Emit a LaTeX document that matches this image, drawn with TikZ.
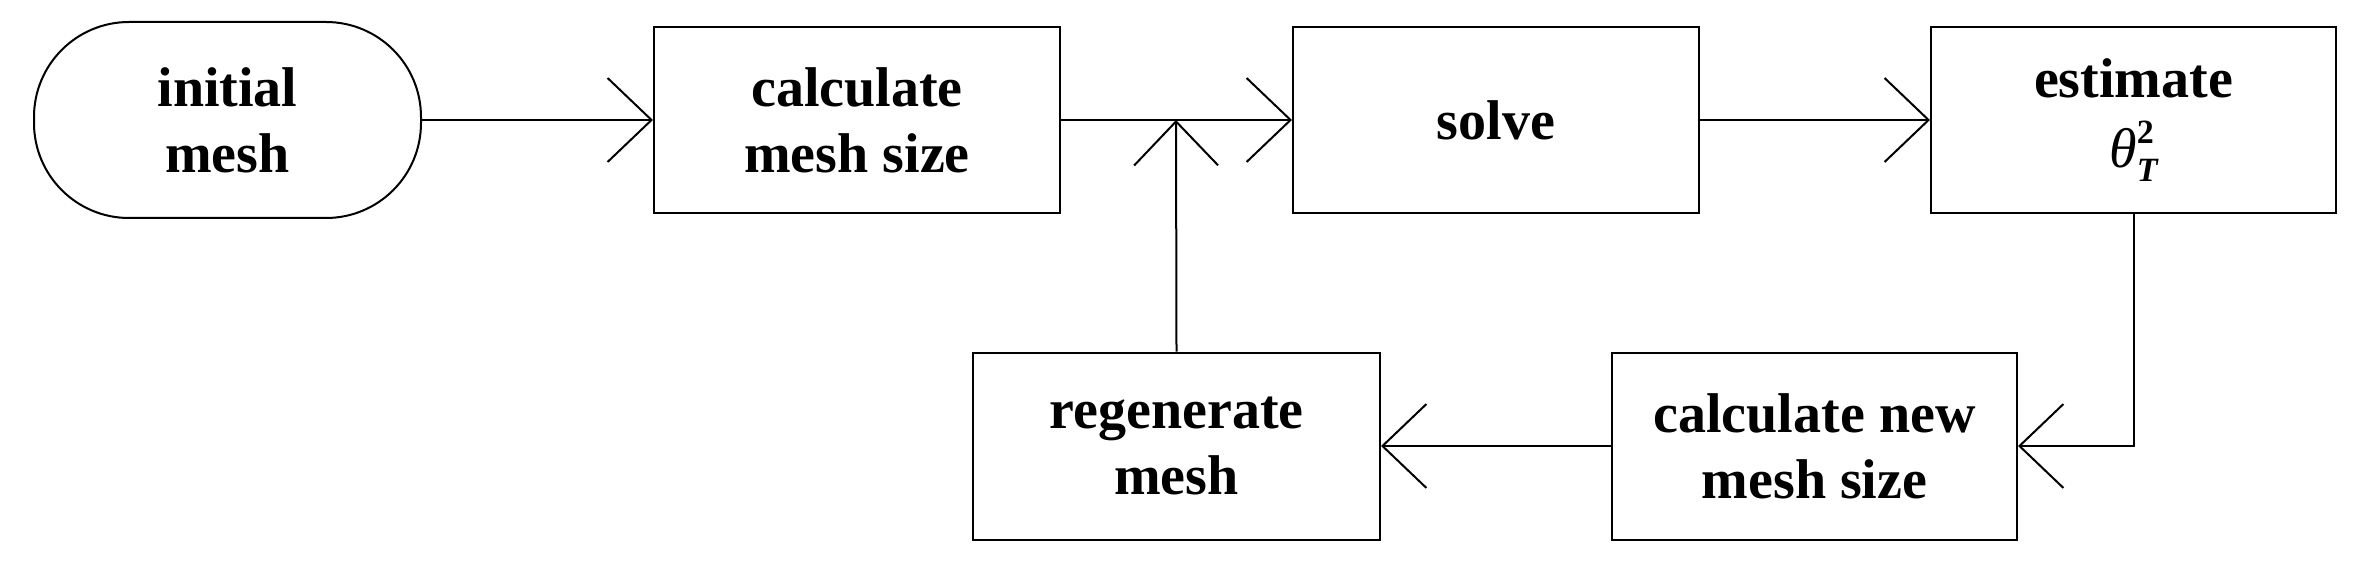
\documentclass[tikz,border=0pt]{standalone}
\usepackage{fontspec}
\setmainfont{Liberation Serif}
\usetikzlibrary{arrows.meta}
\begin{document}
\begin{tikzpicture}[x=1pt,y=-1pt,
  box/.style={draw,line width=2pt,inner sep=0pt,align=center,font=\fontsize{56}{66}\selectfont\bfseries},
  arr/.style={line width=2pt,-{Straight Barb[length=44pt,width=84pt,line width=2pt]}},
  ln/.style={line width=2pt}]
\useasboundingbox (0,0) rectangle (2358,564);
\node[box,rounded corners=95pt,minimum width=387pt,minimum height=196pt] (init) at (227.5,120) {initial\\mesh};
\node[box,minimum width=406pt,minimum height=186pt] (calc) at (857,120) {calculate\\mesh size};
\node[box,minimum width=406pt,minimum height=186pt] (solve) at (1496,120) {solve};
\node[box,minimum width=405pt,minimum height=186pt] (est) at (2133.5,120) {estimate\\[4pt]{\mdseries\itshape θ}\makebox[0pt][l]{\raisebox{24pt}{\fontsize{34}{34}\selectfont 2}}\raisebox{-14pt}{\fontsize{34}{34}\selectfont\itshape T}};
\node[box,minimum width=407pt,minimum height=187pt] (regen) at (1176.5,446) {regenerate\\mesh};
\node[box,minimum width=405pt,minimum height=187pt] (cnew) at (1814.5,446) {calculate new\\mesh size};
\coordinate (j) at (1176,120);
\draw[arr] (init.east) -- (calc.west);
\draw[ln] (calc.east) -- (j);
\draw[arr] (j) -- (solve.west);
\draw[arr] (regen.north) -- (j);
\draw[arr] (solve.east) -- (est.west);
\draw[arr] (est.south) |- (cnew.east);
\draw[arr] (cnew.west) -- (regen.east);
\end{tikzpicture}
\end{document}
